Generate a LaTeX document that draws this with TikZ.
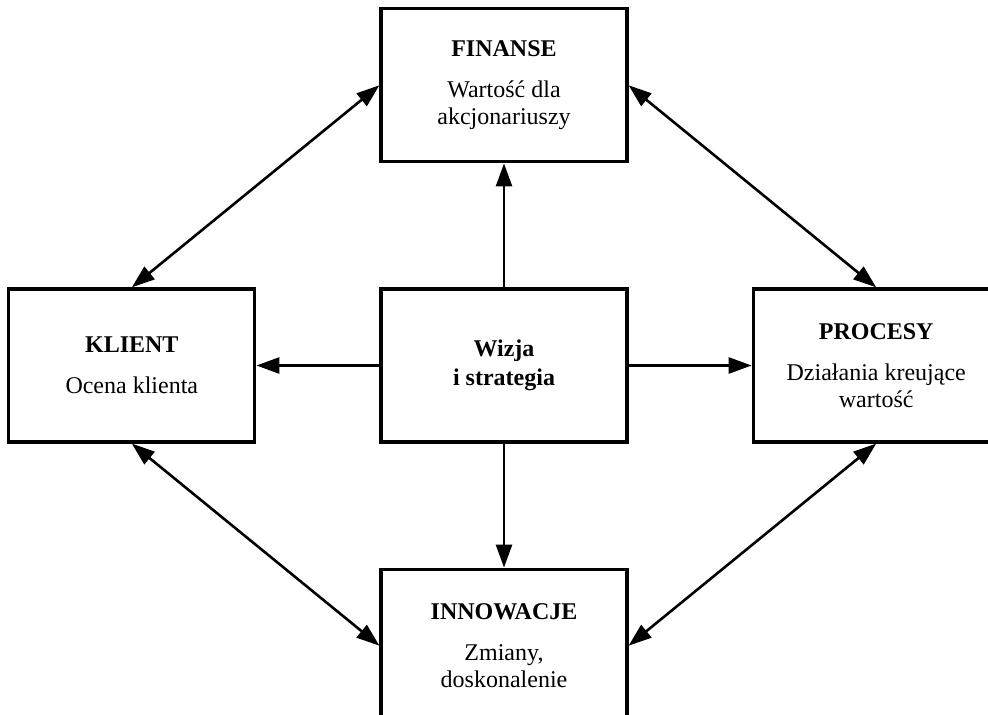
\documentclass[tikz,border=0pt]{standalone}
\usepackage{fontspec}
\setmainfont{Liberation Serif}
\usetikzlibrary{arrows.meta,positioning}
\tikzset{
  >={Triangle[length=11.5pt,width=8pt]},
  area/.style={draw=black, line width=1.6pt, align=center,
               minimum width=123pt, minimum height=76.5pt, inner sep=2pt,
               font=\fontsize{12}{13.5}\selectfont},
  link/.style={<->, draw=black, line width=1.3pt},
  push/.style={->, draw=black, line width=1.3pt}
}

\begin{document}
\begin{tikzpicture}[x=0.5pt, y=-0.5pt, node distance=61.5pt]

% ------------------------------------------------------------
% FRAME (the right and bottom boxes run past the edge)
% ------------------------------------------------------------
\useasboundingbox (0,0) rectangle (988,715);
\clip (0,0) rectangle (988,715);

% ------------------------------------------------------------
% CENTRAL BOX
% ------------------------------------------------------------
\node[area] (core) at (504,365.5)
{\textbf{Wizja}\\[1pt]\textbf{i strategia}};

% ------------------------------------------------------------
% FOUR PERSPECTIVES
% ------------------------------------------------------------
\node[area, above=62pt of core] (finanse)
{\textbf{FINANSE}\\[7pt]Wartość dla\\akcjonariuszy};
\node[area, left=of core] (klient)
{\textbf{KLIENT}\\[7pt]Ocena klienta};
\node[area, right=of core] (procesy)
{\textbf{PROCESY}\\[7pt]Działania kreujące\\wartość};
\node[area, below=62pt of core] (innowacje)
{\textbf{INNOWACJE}\\[7pt]Zmiany,\\doskonalenie};

% ------------------------------------------------------------
% STRATEGY PUSHES OUTWARDS
% ------------------------------------------------------------
\draw[push] (core.north) -- (finanse.south);
\draw[push] (core.west)  -- (klient.east);
\draw[push] (core.east)  -- (procesy.west);
\draw[push] (core.south) -- (innowacje.north);

% ------------------------------------------------------------
% MUTUAL LINKS ROUND THE RING
% ------------------------------------------------------------
\draw[link] (klient.north)  -- (finanse.west);
\draw[link] (finanse.east)  -- (procesy.north);
\draw[link] (klient.south)  -- (innowacje.west);
\draw[link] (procesy.south) -- (innowacje.east);

\end{tikzpicture}
\end{document}
